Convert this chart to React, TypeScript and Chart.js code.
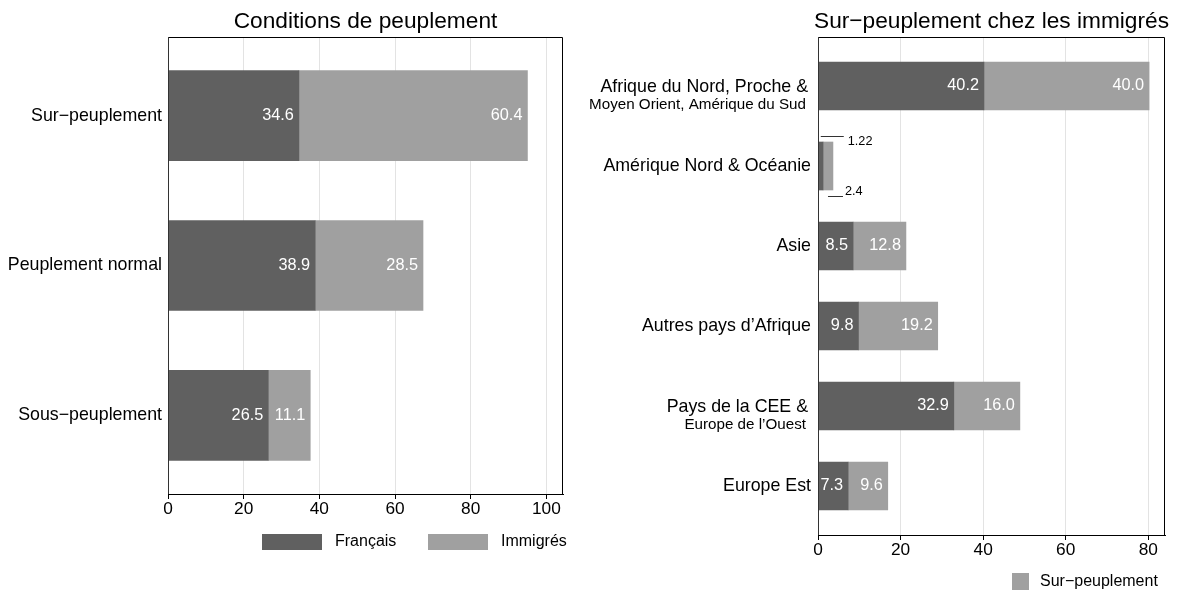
import React, { useEffect, useRef } from 'react';
import { Chart, registerables } from 'chart.js';

Chart.register(...registerables);

// ---------- data ----------
const conditionCategories = ['Sur−peuplement', 'Peuplement normal', 'Sous−peuplement'];
const francaisValues = [34.6, 38.9, 26.5];
const immigresValues = [60.4, 28.5, 11.1];

const regionLines = [
  ['Afrique du Nord, Proche &', 'Moyen Orient, Amérique du Sud'],
  ['Amérique Nord & Océanie'],
  ['Asie'],
  ['Autres pays d’Afrique'],
  ['Pays de la CEE &', 'Europe de l’Ouest'],
  ['Europe Est'],
];
const regionDarkValues = [40.2, 1.22, 8.5, 9.8, 32.9, 7.3];
const regionLightValues = [40.0, 2.4, 12.8, 19.2, 16.0, 9.6];

const tickStep = 20;
const leftTitle = 'Conditions de peuplement';
const rightTitle = 'Sur−peuplement chez les immigrés';
const leftLegend = ['Français', 'Immigrés'];
const rightLegend = ['Sur−peuplement'];

// ---------- style ----------
const DARK = '#606060';
const LIGHT = '#a0a0a0';
const GRID = '#e3e3e3';
const FONT = "'Liberation Sans', Arial, Helvetica, sans-serif";

function fmt(v: number): string {
  const t = v * 10;
  return Math.abs(Math.round(t) - t) < 1e-9 ? v.toFixed(1) : String(v);
}

type DecorCfg = {
  title: string;
  labels: string[][];
  legend: { text: string; color: string; x: number; w: number; h: number; y: number; tx: number }[];
  labelRight: number;
};

function makeDecor(cfg: DecorCfg) {
  return {
    id: 'decor',
    afterDraw(chart: any) {
      const ctx = chart.ctx as CanvasRenderingContext2D;
      const a = chart.chartArea;
      ctx.save();
      // frame
      ctx.lineWidth = 1;
      ctx.strokeStyle = '#000';
      ctx.beginPath();
      ctx.moveTo(a.left, a.top + 0.5);
      ctx.lineTo(a.right - 0.5, a.top + 0.5);
      ctx.lineTo(a.right - 0.5, a.bottom);
      ctx.stroke();
      ctx.strokeStyle = '#333';
      ctx.beginPath();
      ctx.moveTo(a.left + 0.5, a.top);
      ctx.lineTo(a.left + 0.5, a.bottom);
      ctx.stroke();

      // title
      ctx.fillStyle = '#000';
      ctx.font = `22.7px ${FONT}`;
      ctx.textAlign = 'center';
      ctx.textBaseline = 'alphabetic';
      ctx.fillText(cfg.title, (a.left + a.right) / 2, 28);

      // category labels
      const yScale = chart.scales.y;
      ctx.textAlign = 'right';
      ctx.textBaseline = 'middle';
      cfg.labels.forEach((lines, i) => {
        const yc = yScale.getPixelForValue(i);
        if (lines.length === 1) {
          ctx.font = `17.8px ${FONT}`;
          ctx.fillText(lines[0], a.left - cfg.labelRight, yc);
        } else {
          ctx.font = `17.8px ${FONT}`;
          ctx.fillText(lines[0], a.left - cfg.labelRight - 3, yc + 1);
          ctx.font = `15.2px ${FONT}`;
          ctx.fillText(lines[1], a.left - cfg.labelRight - 5, yc + 19);
        }
      });

      // value labels
      chart.data.datasets.forEach((ds: any, di: number) => {
        const meta = chart.getDatasetMeta(di);
        meta.data.forEach((el: any, i: number) => {
          const v = ds.data[i].x;
          const txt = fmt(v);
          const start = Math.min(el.base, el.x);
          const end = Math.max(el.base, el.x);
          if (end - start >= 20) {
            ctx.fillStyle = '#fff';
            ctx.font = `16.3px ${FONT}`;
            ctx.textAlign = 'right';
            ctx.textBaseline = 'middle';
            ctx.fillText(txt, end - 5, el.y);
          } else {
            const mid = (start + end) / 2;
            ctx.strokeStyle = '#333';
            ctx.fillStyle = '#000';
            ctx.font = `12.7px ${FONT}`;
            ctx.textAlign = 'left';
            ctx.textBaseline = 'middle';
            if (di === 0) {
              const ly = Math.round(el.y - el.height / 2 - 6) + 0.5;
              ctx.beginPath();
              ctx.moveTo(mid, ly);
              ctx.lineTo(mid + 23, ly);
              ctx.stroke();
              ctx.fillText(txt, mid + 27, ly + 5);
            } else {
              const ly = Math.round(el.y + el.height / 2 + 6) + 0.5;
              ctx.beginPath();
              ctx.moveTo(mid, ly);
              ctx.lineTo(mid + 15, ly);
              ctx.stroke();
              ctx.fillText(txt, mid + 17, ly - 5);
            }
          }
        });
      });

      // legend
      cfg.legend.forEach((it) => {
        ctx.fillStyle = it.color;
        ctx.fillRect(it.x, it.y, it.w, it.h);
        ctx.fillStyle = '#000';
        ctx.font = `16px ${FONT}`;
        ctx.textAlign = 'left';
        ctx.textBaseline = 'middle';
        ctx.fillText(it.text, it.tx, it.y + it.h / 2);
      });
      ctx.restore();
    },
  };
}

function makeConfig(
  dark: number[],
  light: number[],
  xMax: number,
  yMin: number,
  yMax: number,
  barThickness: number,
  padding: any,
  darkLabel: string,
  lightLabel: string,
  decor: any,
): any {
  return {
    type: 'bar',
    data: {
      datasets: [
        {
          label: darkLabel,
          data: dark.map((v, i) => ({ x: v, y: i })),
          backgroundColor: DARK,
          borderWidth: 0,
          barThickness,
        },
        {
          label: lightLabel,
          data: light.map((v, i) => ({ x: v, y: i })),
          backgroundColor: LIGHT,
          borderWidth: 0,
          barThickness,
        },
      ],
    },
    options: {
      indexAxis: 'y',
      responsive: false,
      animation: false,
      layout: { padding },
      plugins: {
        legend: { display: false },
        title: { display: false },
        tooltip: { enabled: false },
      },
      scales: {
        x: {
          type: 'linear',
          stacked: true,
          min: 0,
          max: xMax,
          offset: false,
          grid: { color: GRID, tickColor: '#000', tickLength: 5, lineWidth: 1, offset: false },
          border: { color: '#000', width: 1 },
          ticks: {
            stepSize: tickStep,
            includeBounds: false,
            color: '#000',
            padding: 0,
            font: { family: FONT, size: 17.3 },
            maxRotation: 0,
          },
          afterFit: (s: any) => {
            s.height = 30;
          },
        },
        y: {
          type: 'linear',
          stacked: true,
          reverse: true,
          min: yMin,
          max: yMax,
          offset: false,
          grid: { offset: false },
          ticks: { stepSize: 1, includeBounds: false },
          display: false,
        },
      },
    },
    plugins: [decor],
  };
}

function ChartCanvas({ config, left, width }: { config: any; left: number; width: number }) {
  const ref = useRef<HTMLCanvasElement>(null);
  useEffect(() => {
    if (!ref.current) return;
    const c = new Chart(ref.current, config);
    return () => c.destroy();
  }, [config]);
  return (
    <canvas
      ref={ref}
      width={width}
      height={593}
      style={{ position: 'absolute', left, top: 0, width, height: 593 }}
    />
  );
}

const leftCfg = makeConfig(
  francaisValues,
  immigresValues,
  104.4,
  -0.525,
  conditionCategories.length - 1 + 0.525,
  90,
  { left: 168, right: 12, top: 37, bottom: 593 - 494 - 30 },
  leftLegend[0],
  leftLegend[1],
  makeDecor({
    title: leftTitle,
    labels: conditionCategories.map((c) => [c]),
    labelRight: 6,
    legend: [
      { text: leftLegend[0], color: DARK, x: 262, y: 534, w: 60, h: 16, tx: 335 },
      { text: leftLegend[1], color: LIGHT, x: 428, y: 534, w: 60, h: 16, tx: 501 },
    ],
  }),
);

const OFF2 = 575;
const rightCfg = makeConfig(
  regionDarkValues,
  regionLightValues,
  84.05,
  -0.6125,
  regionLines.length - 1 + 0.6125,
  48,
  { left: 818 - OFF2, right: 1178 - 1165, top: 37, bottom: 593 - 535 - 30 },
  'Dark',
  rightLegend[0],
  makeDecor({
    title: rightTitle,
    labels: regionLines,
    labelRight: 7,
    legend: [
      { text: rightLegend[0], color: LIGHT, x: 1012 - OFF2, y: 573, w: 17, h: 17, tx: 1040 - OFF2 },
    ],
  }),
);

export default function App() {
  return (
    <div style={{ position: 'fixed', left: 0, top: 0, width: 1178, height: 593, background: '#fff' }}>
      <ChartCanvas config={leftCfg} left={0} width={575} />
      <ChartCanvas config={rightCfg} left={OFF2} width={1178 - OFF2} />
    </div>
  );
}
